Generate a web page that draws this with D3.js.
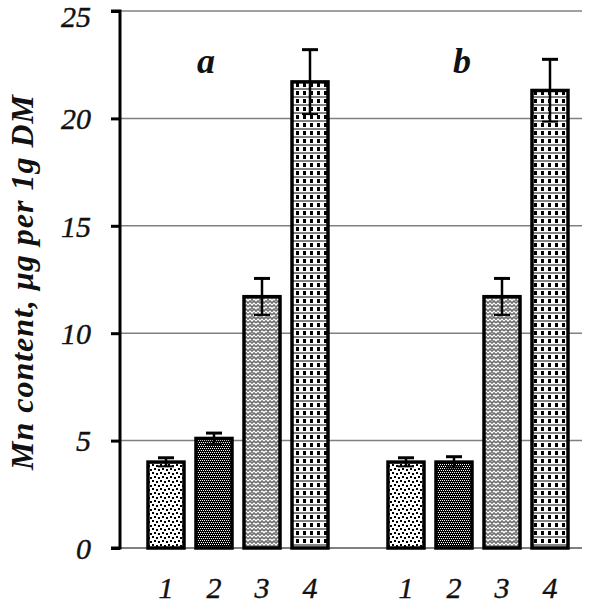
<!DOCTYPE html>
<html>
<head>
<meta charset="utf-8">
<script src="https://cdn.jsdelivr.net/npm/d3@7"></script>
<style>
  html, body { margin: 0; padding: 0; background: #fff; }
  svg { display: block; }
  text { font-family: "Liberation Serif", "Times New Roman", serif; }
</style>
</head>
<body>
<div id="chart"></div>
<script>
// ---- data ----
const groups = ["a", "b"];
const treatments = ["1", "2", "3", "4"];
const valuesA = [4.0, 5.1, 11.7, 21.7];
const errorsA = [0.2, 0.25, 0.85, 1.5];
const valuesB = [4.0, 4.0, 11.7, 21.3];
const errorsB = [0.2, 0.25, 0.85, 1.45];
const yTicks = [0, 5, 10, 15, 20, 25];
const yLabel = "Mn content, \u03bcg per  1g DM";

const W = 600, H = 603;
const svg = d3.select("#chart").append("svg").attr("width", W).attr("height", H);

// ---- patterns ----
const defs = svg.append("defs");
function pat(id, w, h, bg) {
  const p = defs.append("pattern").attr("id", id).attr("patternUnits", "userSpaceOnUse").attr("width", w).attr("height", h);
  p.append("rect").attr("width", w).attr("height", h).attr("fill", bg);
  return p;
}
// 1: black square dots on white, staggered
let p = pat("p1", 8, 8, "#fff");
[[0,0],[4,1],[2,4],[6,5]].forEach(([a,b]) => p.append("rect").attr("x", a).attr("y", b).attr("width", 2).attr("height", 2).attr("fill", "#000"));
// 2: black with fine white dots
p = pat("p2", 4, 4, "#000");
[[0,0],[2,0],[1,2],[3,2]].forEach(([a,b]) => p.append("rect").attr("x", a).attr("y", b).attr("width", 1).attr("height", 1).attr("fill", "#fff"));
// 3: gray herringbone
p = pat("p3", 8, 8, "#fff");
p.append("path").attr("d", "M0,3 L2,1 L4,3 L6,1 L8,3 M0,7 L2,5 L4,7 L6,5 L8,7 M4,3 L4,5 M0,7 L0,9 M8,7 L8,9")
  .attr("stroke", "#707070").attr("stroke-width", 1.6).attr("fill", "none");
// 4: gray bands + black squares
p = pat("p4", 7, 8, "#fff");
p.append("rect").attr("x", 0).attr("y", 0).attr("width", 7).attr("height", 2).attr("fill", "#858585");
p.append("rect").attr("x", 2).attr("y", 3).attr("width", 3).attr("height", 4).attr("fill", "#000");
const patIds = ["p1", "p2", "p3", "p4"];

// ---- scales ----
const y = d3.scaleLinear().domain([0, 25]).range([548, 11]);
const x = d3.scaleLinear().domain([0, 8]).range([166, 550]);
const barW = 36;
const groupLabelShift = [-32, -16];

const data = [];
groups.forEach((g, gi) => {
  const vals = gi === 0 ? valuesA : valuesB;
  const errs = gi === 0 ? errorsA : errorsB;
  treatments.forEach((t, ti) => {
    data.push({ group: g, t, ti, slot: gi * 5 + ti, v: vals[ti], e: errs[ti] });
  });
});

// gridlines
svg.append("g").selectAll("line").data(yTicks).join("line")
  .attr("x1", 120).attr("x2", 582)
  .attr("y1", d => y(d)).attr("y2", d => y(d))
  .attr("stroke", "#808080").attr("stroke-width", d => d === 0 ? 2 : 1.5);

// bars
svg.append("g").selectAll("rect").data(data).join("rect")
  .attr("x", d => x(d.slot) - barW / 2)
  .attr("width", barW)
  .attr("y", d => y(d.v))
  .attr("height", d => y(0) - y(d.v))
  .attr("fill", d => `url(#${patIds[d.ti]})`)
  .attr("stroke", "#000").attr("stroke-width", 3.5);

// error bars
const eb = svg.append("g").attr("stroke", "#000").attr("stroke-width", 2.5);
eb.selectAll("line.v").data(data).join("line").attr("class", "v")
  .attr("x1", d => x(d.slot)).attr("x2", d => x(d.slot))
  .attr("y1", d => y(d.v + d.e)).attr("y2", d => y(d.v - d.e));
eb.selectAll("line.t").data(data).join("line").attr("class", "t")
  .attr("x1", d => x(d.slot) - 8).attr("x2", d => x(d.slot) + 8)
  .attr("y1", d => y(d.v + d.e)).attr("y2", d => y(d.v + d.e))
  .attr("stroke-width", 3);
eb.selectAll("line.b").data(data).join("line").attr("class", "b")
  .attr("x1", d => x(d.slot) - 8).attr("x2", d => x(d.slot) + 8)
  .attr("y1", d => y(d.v - d.e)).attr("y2", d => y(d.v - d.e))
  .attr("stroke-width", 2);

// y axis
const yAxis = d3.axisLeft(y).tickValues(yTicks).tickSize(9).tickPadding(20).tickFormat(d3.format("d"));
const ga = svg.append("g").attr("transform", "translate(120,0)").call(yAxis);
ga.attr("font-family", null);
ga.select(".domain").attr("stroke", "#000").attr("stroke-width", 3).attr("d", `M-9,${y(25)}H0V${y(0)}H-9`);
ga.selectAll(".tick line").attr("stroke", "#000").attr("stroke-width", 3);
ga.selectAll(".tick text")
  .attr("dy", d => d === 25 ? "0.5em" : "0.34em")
  .attr("font-style", "italic").attr("font-size", 30).attr("fill", "#111")
  .attr("stroke", "#111").attr("stroke-width", 0.4);

// x labels
svg.append("g").selectAll("text").data(data).join("text")
  .attr("x", d => x(d.slot)).attr("y", 598)
  .attr("text-anchor", "middle")
  .attr("font-style", "italic").attr("font-size", 30).attr("fill", "#111")
  .attr("stroke", "#111").attr("stroke-width", 0.4)
  .text(d => d.t);

// group labels
svg.append("g").selectAll("text").data(groups).join("text")
  .attr("x", (d, i) => (x(i * 5) + x(i * 5 + 3)) / 2 + groupLabelShift[i])
  .attr("y", 73)
  .attr("text-anchor", "middle")
  .attr("font-style", "italic").attr("font-weight", "bold").attr("font-size", 36).attr("fill", "#111")
  .text(d => d);

// y label
svg.append("text")
  .attr("transform", "translate(22,282) rotate(-90)")
  .attr("dy", "0.35em")
  .attr("text-anchor", "middle")
  .attr("letter-spacing", 1)
  .attr("font-style", "italic").attr("font-weight", "bold").attr("font-size", 32).attr("fill", "#111")
  .text(yLabel);
</script>
</body>
</html>
